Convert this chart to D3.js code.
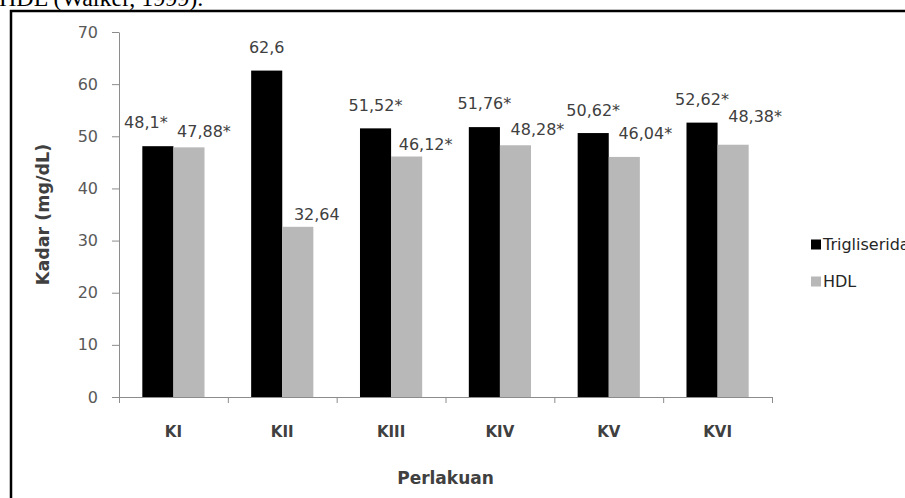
<!DOCTYPE html>
<html>
<head>
<meta charset="utf-8">
<script src="https://cdn.jsdelivr.net/npm/d3@7"></script>
<style>
  html, body { margin: 0; padding: 0; background: #fff; overflow: hidden; }
  svg { display: block; }
</style>
</head>
<body>
<div id="container"></div>
<script>
// Kadar trigliserida dan HDL per perlakuan
const categories = ["KI", "KII", "KIII", "KIV", "KV", "KVI"];
const seriesNames = ["Trigliserida", "HDL"];
const trigliserida = [48.1, 62.6, 51.52, 51.76, 50.62, 52.62];
const hdl = [47.88, 32.64, 46.12, 48.28, 46.04, 48.38];
const labelsTri = ["48,1*", "62,6", "51,52*", "51,76*", "50,62*", "52,62*"];
const labelsHdl = ["47,88*", "32,64", "46,12*", "48,28*", "46,04*", "48,38*"];
const yTicks = [0, 10, 20, 30, 40, 50, 60, 70];

// labels were dragged by hand in the original, so nudge them [dx, dy]
const nudgeTri = [[-12, -24], [0, -23], [0, -23], [0, -24], [0, -23], [0, -23]];
const nudgeHdl = [[15, -16], [19, -13], [19, -12], [22, -16], [21, -24], [22, -28]];

const width = 905;
const height = 498;
const colors = { Trigliserida: "#000000", HDL: "#b8b8b8" };
const font = "'DejaVu Sans', sans-serif";

const svg = d3
  .select("#container")
  .append("svg")
  .attr("width", width)
  .attr("height", height);

// caption text cut off at top of the picture
svg
  .append("text")
  .attr("x", -1)
  .attr("y", 6)
  .style("font-family", "'Liberation Serif', serif")
  .style("font-size", "24px")
  .attr("fill", "#000")
  .text("HDL (Walker, 1999).");

// frame
svg
  .append("rect")
  .attr("x", 11)
  .attr("y", 11)
  .attr("width", width)
  .attr("height", height)
  .attr("fill", "none")
  .attr("stroke", "#000")
  .attr("stroke-width", 2.5);

const plotLeft = 119;
const plotRight = 772;
const plotTop = 32;
const plotBottom = 397;

const yScale = d3.scaleLinear().domain([0, 70]).range([plotBottom, plotTop]);
const x0 = d3.scaleBand().domain(categories).range([plotLeft, plotRight]);
const x1 = d3
  .scaleBand()
  .domain(seriesNames)
  .range([0, x0.bandwidth()])
  .paddingInner(0)
  .paddingOuter(0.75);

// y axis
const yAxis = d3
  .axisLeft(yScale)
  .tickValues(yTicks)
  .tickSize(7)
  .tickSizeOuter(0)
  .tickPadding(14)
  .tickFormat(d3.format("d"));

const gy = svg.append("g").attr("transform", "translate(" + plotLeft + ",0)").call(yAxis);
gy.select(".domain").attr("stroke", "#8c8c8c");
gy.selectAll(".tick line").attr("stroke", "#8c8c8c");
gy.selectAll(".tick text")
  .style("font-family", font)
  .style("font-size", "16px")
  .attr("fill", "#595959");

// bars
const data = categories.map((c, i) => ({
  cat: c,
  values: [
    { name: "Trigliserida", value: trigliserida[i], label: labelsTri[i], nudge: nudgeTri[i] },
    { name: "HDL", value: hdl[i], label: labelsHdl[i], nudge: nudgeHdl[i] },
  ],
}));

const groups = svg
  .selectAll(".group")
  .data(data)
  .enter()
  .append("g")
  .attr("class", "group")
  .attr("transform", (d) => "translate(" + x0(d.cat) + ",0)");

groups
  .selectAll("rect")
  .data((d) => d.values)
  .enter()
  .append("rect")
  .attr("x", (d) => x1(d.name))
  .attr("y", (d) => yScale(d.value))
  .attr("width", x1.bandwidth())
  .attr("height", (d) => plotBottom - yScale(d.value))
  .attr("fill", (d) => colors[d.name]);

groups
  .selectAll(".lbl")
  .data((d) => d.values)
  .enter()
  .append("text")
  .attr("class", "lbl")
  .attr("x", (d) => x1(d.name) + x1.bandwidth() / 2 + d.nudge[0])
  .attr("y", (d) => yScale(d.value) + d.nudge[1])
  .attr("dy", "0.36em")
  .attr("text-anchor", "middle")
  .style("font-family", font)
  .style("font-size", "16px")
  .attr("fill", "#404040")
  .text((d) => d.label);

// x axis: ticks between categories
const xEdges = d3.scaleLinear().domain([0, categories.length]).range([plotLeft, plotRight]);
const xAxis = d3
  .axisBottom(xEdges)
  .tickValues(d3.range(categories.length + 1))
  .tickSize(6)
  .tickSizeOuter(6)
  .tickFormat("");

const gx = svg.append("g").attr("transform", "translate(0," + plotBottom + ")").call(xAxis);
gx.select(".domain").attr("stroke", "#8c8c8c");
gx.selectAll(".tick line").attr("stroke", "#8c8c8c");

svg
  .selectAll(".catLabel")
  .data(categories)
  .enter()
  .append("text")
  .attr("class", "catLabel")
  .attr("x", (d) => x0(d) + x0.bandwidth() / 2)
  .attr("y", 432)
  .attr("dy", "0.36em")
  .attr("text-anchor", "middle")
  .style("font-family", font)
  .style("font-size", "15px")
  .style("font-weight", "bold")
  .attr("fill", "#404040")
  .text((d) => d);

// axis titles
svg
  .append("text")
  .attr("x", (plotLeft + plotRight) / 2)
  .attr("y", 478)
  .attr("dy", "0.36em")
  .attr("text-anchor", "middle")
  .style("font-family", font)
  .style("font-size", "17px")
  .style("font-weight", "bold")
  .attr("fill", "#404040")
  .text("Perlakuan");

svg
  .append("text")
  .attr("transform", "translate(43," + (plotTop + plotBottom) / 2 + ") rotate(-90)")
  .attr("dy", "0.36em")
  .attr("text-anchor", "middle")
  .style("font-family", font)
  .style("font-size", "17.5px")
  .style("font-weight", "bold")
  .attr("fill", "#404040")
  .text("Kadar (mg/dL)");

// legend
const legendY = [244.5, 281.5];
const legend = svg
  .selectAll(".legend")
  .data(seriesNames)
  .enter()
  .append("g")
  .attr("class", "legend")
  .attr("transform", (d, i) => "translate(811," + legendY[i] + ")");

legend
  .append("rect")
  .attr("x", 0)
  .attr("y", -5)
  .attr("width", 10)
  .attr("height", 10)
  .attr("fill", (d) => colors[d]);

legend
  .append("text")
  .attr("x", 12)
  .attr("y", 0)
  .attr("dy", "0.36em")
  .style("font-family", font)
  .style("font-size", "16px")
  .attr("fill", "#262626")
  .text((d) => d);
</script>
</body>
</html>
